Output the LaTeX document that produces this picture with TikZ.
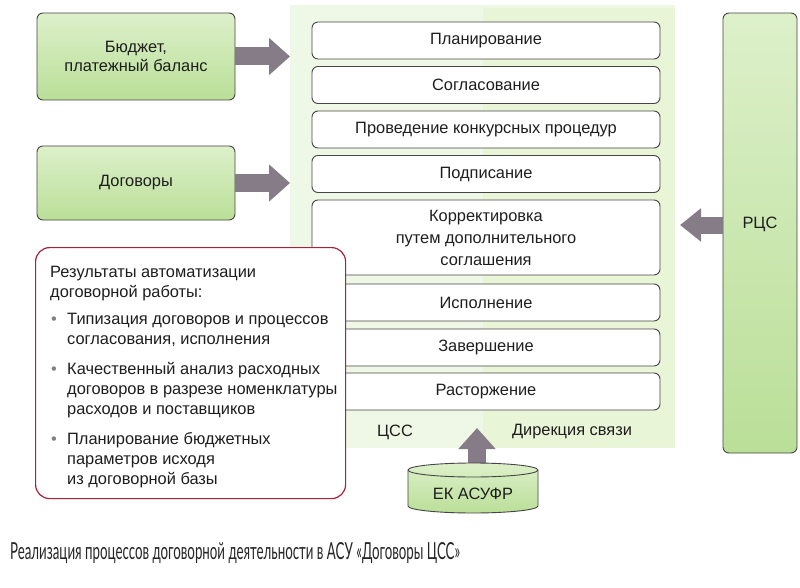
\documentclass[tikz,border=0pt]{standalone}
\usepackage{fontspec}
\usepackage{graphicx}
\setmainfont{Liberation Sans}
\newfontfamily\capfont{Lato}
\usetikzlibrary{arrows.meta,calc}
\definecolor{panelA}{HTML}{EFF7E6}
\definecolor{panelB}{HTML}{E9F5D7}
\definecolor{gtop}{HTML}{DDF0CA}
\definecolor{gbot}{HTML}{BADF98}
\definecolor{arrowc}{HTML}{857C87}
\definecolor{redb}{HTML}{A82238}
\definecolor{edge}{HTML}{454545}
\definecolor{txt}{HTML}{1E1E1E}
\begin{document}
\begin{tikzpicture}[x=1pt,y=-1pt,
  every node/.style={text=txt, inner sep=0pt},
  f16/.style={font=\fontsize{16.4}{19}\selectfont},
  stage/.style={f16, draw=edge, line width=0.9pt, fill=white, rounded corners=6pt,
    minimum width=348pt, minimum height=37pt, align=center},
  gbox/.style={f16, draw=edge, line width=0.9pt, rounded corners=6pt,
    top color=gtop, bottom color=gbot, align=center},
  barrow/.style={draw=arrowc, line width=18pt, -{Triangle[length=21pt,width=36pt]}},
  resline/.style={f16, anchor=base west},
]
\useasboundingbox (0,0) rectangle (800,588);
\fill[white] (0,0) rectangle (800,588);

% background panel
\node[fill=panelA, minimum width=385pt, minimum height=443pt, anchor=north west] (panel) at (290,5) {};
\fill[panelB] (483,8) rectangle (675,448);

% stages
\node[stage] (p1) at (486,40.5) {Планирование};
\node[stage] (p2) at (486,85) {Согласование};
\node[stage] (p3) at (486,129.5) {Проведение конкурсных процедур};
\node[stage] (p4) at (486,174) {Подписание};
\node[stage, minimum height=75pt, font=\fontsize{16.4}{22}\selectfont] (p5) at (486,237.5) {Корректировка\\путем дополнительного\\соглашения};
\node[stage] (p6) at (486,302.5) {Исполнение};
\node[stage] (p7) at (486,347.5) {Завершение};
\node[stage] (p8) at (486,391.5) {Расторжение};

\node[f16] (css) at (395,432) {ЦСС};
\node[f16] (dir) at (572,432) {Дирекция связи};

% left green boxes
\node[gbox, minimum width=198pt, minimum height=87pt] (bud) at (136,56.5) {Бюджет,\\платежный баланс};
\node[gbox, minimum width=198pt, minimum height=74pt] (dog) at (136,183) {Договоры};
\draw[barrow] (bud.east) -- (bud.east -| panel.west);
\draw[barrow] (dog.east) -- (dog.east -| panel.west);

% right РЦС box
\node[gbox, minimum width=74pt, minimum height=440pt] (rcs) at (760,233) {};
\node[f16] (rcst) at (760,224) {РЦС};
\coordinate (rcsTip) at (680,225);
\draw[barrow, line width=17pt, -{Triangle[length=21pt,width=32pt]}] (rcs.west |- rcsTip) -- (rcsTip);

% cylinder ЕК АСУФР
\coordinate (ekBase) at (477,472);
\coordinate (ekTip) at (477,428);
\draw[barrow] (ekBase) -- (ekTip);
\path[top color=gtop, bottom color=gbot, draw=edge, line width=0.9pt]
  (408,470) -- (408,506) arc[start angle=180, end angle=0, x radius=65, y radius=7]
  -- (538,470) arc[start angle=0, end angle=-180, x radius=65, y radius=7] -- cycle;
\draw[edge, line width=0.9pt] (408,470) arc[start angle=180, end angle=0, x radius=65, y radius=7];
\node[f16] (ek) at (473,494) {ЕК АСУФР};

% results box
\node[draw=redb, line width=1.2pt, fill=white, rounded corners=14pt,
  minimum width=310pt, minimum height=251pt, anchor=north west] (res) at (35,247) {};
\node[resline] (r1) at (50,277) {Результаты автоматизации};
\node[resline] (r2) at (50,297) {договорной работы:};
\node[resline] (b1) at (51,324) {\textcolor{gray}{\textbullet}};
\node[resline] (r3) at (67,324) {Типизация договоров и процессов};
\node[resline] (r4) at (67,344) {согласования, исполнения};
\node[resline] (b2) at (51,374) {\textcolor{gray}{\textbullet}};
\node[resline] (r5) at (67,374) {Качественный анализ расходных};
\node[resline] (r6) at (67,394) {договоров в разрезе номенклатуры};
\node[resline] (r7) at (67,414) {расходов и поставщиков};
\node[resline] (b3) at (51,444) {\textcolor{gray}{\textbullet}};
\node[resline] (r8) at (67,444) {Планирование бюджетных};
\node[resline] (r9) at (67,464) {параметров исходя};
\node[resline] (r10) at (67,484) {из договорной базы};

% caption
\node[anchor=base west, text=black!85] (cap) at (10,559)
  {\resizebox{450pt}{17pt}{\capfont Реализация процессов договорной деятельности в АСУ «Договоры ЦСС»}};
\end{tikzpicture}
\end{document}
